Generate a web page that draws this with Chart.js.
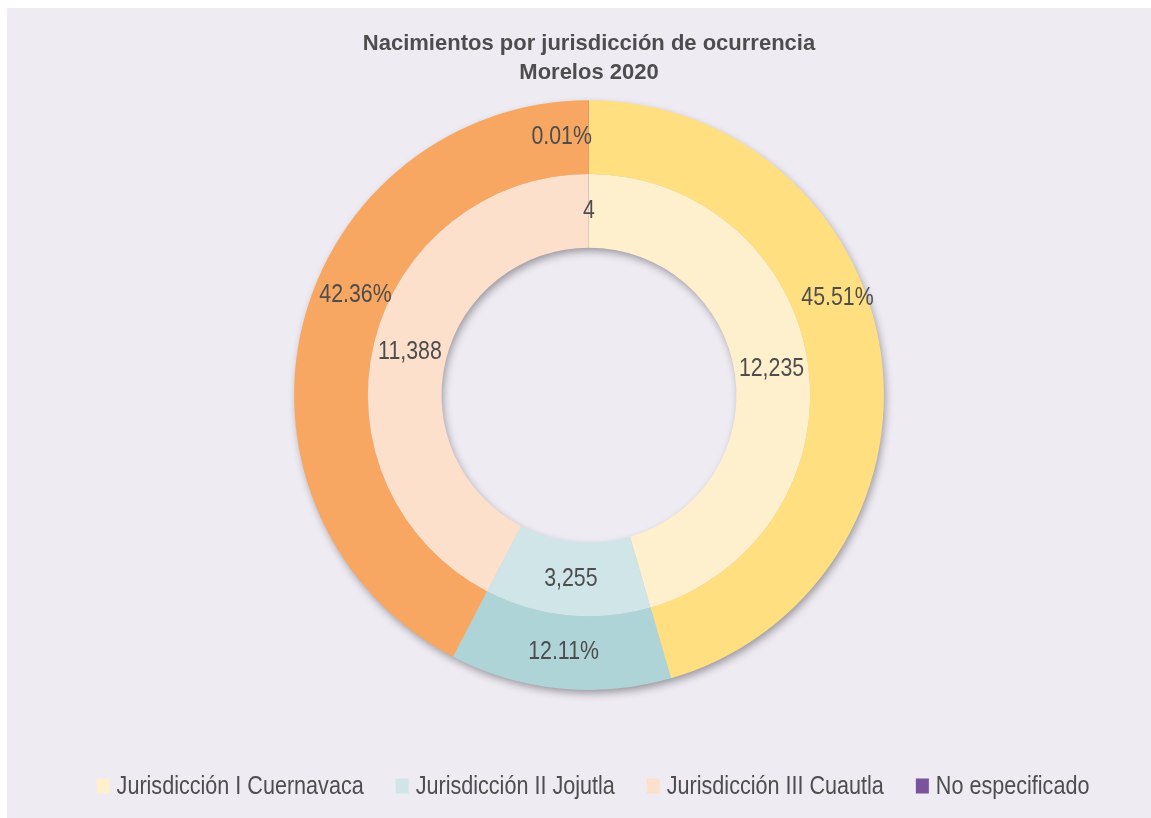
<!DOCTYPE html>
<html><head><meta charset="utf-8">
<script src="https://cdn.jsdelivr.net/npm/chart.js@4.4.0/dist/chart.umd.min.js"></script>
<style>
html,body{margin:0;padding:0;background:#ffffff;}
#wrap{position:absolute;left:7px;top:8px;width:1144px;height:810px;background:#EEEBF3;}
canvas{display:block;}
</style></head><body>
<div id="wrap"><canvas id="c" width="1144" height="810"></canvas></div>
<script>
const categories = ['Jurisdicción I Cuernavaca', 'Jurisdicción II Jojutla', 'Jurisdicción III Cuautla', 'No especificado'];
const births = [12235, 3255, 11388, 4];
const shares = [45.51, 12.11, 42.36, 0.01];
const titleLines = ['Nacimientos por jurisdicción de ocurrencia', 'Morelos 2020'];

const outerColors = ['#FFDF80', '#AFD4D8', '#F8A762', '#7A4E9B'];
const innerColors = ['#FFF0CD', '#D0E5E8', '#FDE0CC', '#7B539D'];
const FONT = "'Liberation Sans', Arial, sans-serif";
const NARROW = 0.82;
const TEXT = '#4d4d4d';

function narrowText(ctx, text, x, y, align, sx) {
  ctx.save();
  ctx.translate(x, y);
  ctx.scale(sx, 1);
  ctx.textAlign = align;
  ctx.fillText(text, 0, 0);
  ctx.restore();
}

const shadowPlugin = {
  id: 'ringShadow',
  beforeDatasetsDraw(chart) {
    const o = chart.getDatasetMeta(0).data[0];
    const i = chart.getDatasetMeta(1).data[0];
    if (!o || !i) return;
    const ctx = chart.ctx;
    ctx.save();
    ctx.shadowColor = 'rgba(0,0,0,0.38)';
    ctx.shadowBlur = 8;
    ctx.shadowOffsetX = 2;
    ctx.shadowOffsetY = 4;
    ctx.beginPath();
    ctx.arc(o.x, o.y, o.outerRadius - 1, 0, Math.PI * 2);
    ctx.arc(o.x, o.y, i.innerRadius + 1, 0, Math.PI * 2, true);
    ctx.fillStyle = '#cccccc';
    ctx.fill('evenodd');
    ctx.restore();
  }
};

const labelPlugin = {
  id: 'ringLabels',
  afterDatasetsDraw(chart, args, opts) {
    const ctx = chart.ctx;
    ctx.save();
    ctx.font = opts.size + 'px ' + FONT;
    ctx.fillStyle = TEXT;
    ctx.textBaseline = 'middle';
    chart.data.datasets.forEach((ds, di) => {
      const meta = chart.getDatasetMeta(di);
      const nudges = (opts.nudge[di] || []);
      meta.data.forEach((arc, k) => {
        const n = nudges[k] || {};
        const mid = (arc.startAngle + arc.endAngle) / 2 + (n.a || 0) * Math.PI / 180;
        const r = (arc.innerRadius + arc.outerRadius) / 2 + (n.r || 0);
        const x = arc.x + Math.cos(mid) * r + (n.dx || 0);
        const y = arc.y + Math.sin(mid) * r;
        narrowText(ctx, ds.labelsText[k], x, y, n.align || 'center', NARROW);
      });
    });
    ctx.restore();
  }
};

const legendPlugin = {
  id: 'bottomLegend',
  afterDraw(chart, args, opts) {
    const ctx = chart.ctx;
    ctx.save();
    ctx.font = opts.size + 'px ' + FONT;
    ctx.textBaseline = 'middle';
    const widths = categories.map(c => ctx.measureText(c).width * opts.sx);
    const itemW = widths.map(w => opts.box + opts.boxGap + w);
    const total = itemW.reduce((a, b) => a + b, 0) + opts.itemGap * (categories.length - 1);
    const cx = (chart.chartArea.left + chart.chartArea.right) / 2 + opts.shift;
    let x = cx - total / 2;
    const y = chart.height - opts.bottom;
    categories.forEach((c, k) => {
      ctx.fillStyle = innerColors[k];
      ctx.fillRect(x, y - opts.boxH / 2, opts.box, opts.boxH);
      ctx.fillStyle = TEXT;
      narrowText(ctx, c, x + opts.box + opts.boxGap, y + 1, 'left', opts.sx);
      x += itemW[k] + opts.itemGap;
    });
    ctx.restore();
  }
};

new Chart(document.getElementById('c'), {
  type: 'doughnut',
  data: {
    labels: categories,
    datasets: [
      { label: 'Porcentaje', data: shares, backgroundColor: outerColors, borderWidth: 0, hoverOffset: 0,
        labelsText: shares.map(v => v.toFixed(2) + '%') },
      { label: 'Nacimientos', data: births, backgroundColor: innerColors, borderWidth: 0, hoverOffset: 0,
        labelsText: births.map(v => v.toLocaleString('en-US')) }
    ]
  },
  options: {
    responsive: false,
    animation: false,
    devicePixelRatio: 1,
    cutout: '50%',
    layout: { padding: { top: 0, left: 20, right: 0, bottom: 128 } },
    events: [],
    plugins: {
      legend: { display: false },
      tooltip: { enabled: false },
      title: {
        display: true,
        text: titleLines,
        color: TEXT,
        font: { family: FONT, size: 22, weight: 'bold', lineHeight: 1.3 },
        padding: { top: 22, bottom: 13 }
      },
      ringLabels: {
        size: 26,
        nudge: {
          0: [{a: -13.4, r: 9}, {}, {a: 9.5, r: -4}, {align: 'right', dx: 3}],
          1: []
        }
      },
      bottomLegend: { size: 26, sx: 0.83, box: 13, boxH: 15, boxGap: 7, itemGap: 32, bottom: 32, shift: 4 }
    }
  },
  plugins: [shadowPlugin, labelPlugin, legendPlugin]
});
</script>
</body></html>
